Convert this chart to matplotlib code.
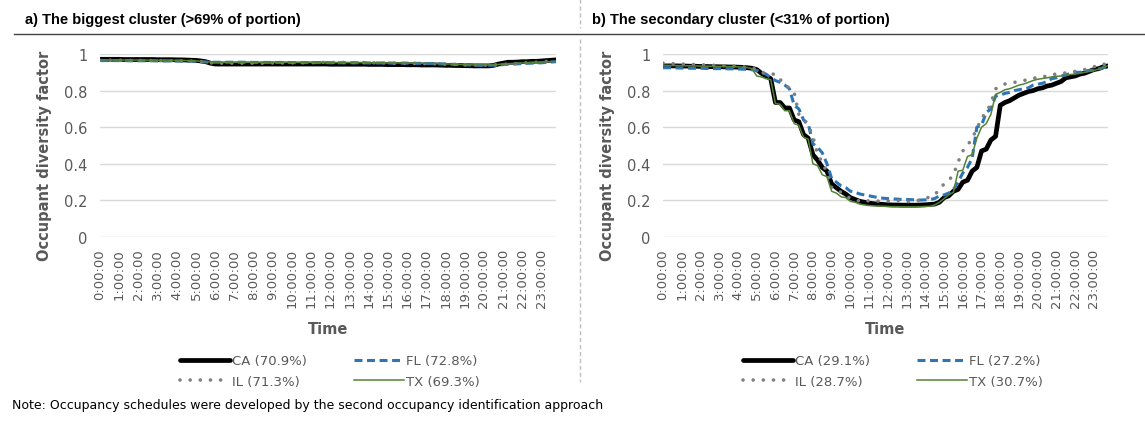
import numpy as np
import matplotlib.pyplot as plt
from matplotlib.lines import Line2D

# ── Data (15-minute steps, 96 points per day) ─────────────────────────────────
time_labels = [f"{h}:00:00" for h in range(24)]

# a) biggest cluster
ca_big = [0.971, 0.971, 0.971, 0.971, 0.971, 0.970, 0.970, 0.970,
          0.970, 0.970, 0.970, 0.970, 0.969, 0.969, 0.969, 0.969,
          0.968, 0.968, 0.967, 0.966, 0.965, 0.962, 0.958, 0.950,
          0.945, 0.945, 0.945, 0.945, 0.945, 0.945, 0.945, 0.945,
          0.945, 0.945, 0.945, 0.945, 0.945, 0.945, 0.945, 0.945,
          0.945, 0.945, 0.945, 0.945, 0.945, 0.945, 0.945, 0.945,
          0.944, 0.944, 0.944, 0.944, 0.944, 0.944, 0.944, 0.944,
          0.943, 0.943, 0.943, 0.943, 0.942, 0.942, 0.942, 0.942,
          0.941, 0.941, 0.941, 0.940, 0.940, 0.940, 0.940, 0.939,
          0.938, 0.938, 0.937, 0.937, 0.936, 0.936, 0.935, 0.935,
          0.935, 0.935, 0.938, 0.945, 0.950, 0.955, 0.955, 0.956,
          0.958, 0.958, 0.960, 0.960, 0.962, 0.964, 0.966, 0.968]
fl_big = [0.964, 0.964, 0.964, 0.964, 0.964, 0.964, 0.963, 0.963,
          0.963, 0.963, 0.963, 0.963, 0.962, 0.962, 0.962, 0.962,
          0.962, 0.961, 0.961, 0.960, 0.960, 0.958, 0.956, 0.955,
          0.955, 0.955, 0.955, 0.955, 0.955, 0.955, 0.955, 0.955,
          0.954, 0.954, 0.954, 0.954, 0.954, 0.954, 0.954, 0.954,
          0.953, 0.953, 0.953, 0.953, 0.953, 0.953, 0.953, 0.953,
          0.952, 0.952, 0.952, 0.952, 0.952, 0.952, 0.952, 0.952,
          0.951, 0.951, 0.951, 0.951, 0.951, 0.950, 0.950, 0.950,
          0.950, 0.950, 0.949, 0.949, 0.948, 0.948, 0.947, 0.946,
          0.945, 0.944, 0.943, 0.942, 0.941, 0.940, 0.939, 0.938,
          0.938, 0.938, 0.939, 0.940, 0.942, 0.944, 0.945, 0.946,
          0.948, 0.949, 0.950, 0.951, 0.952, 0.954, 0.956, 0.958]
il_big = [0.966, 0.966, 0.966, 0.966, 0.966, 0.965, 0.965, 0.965,
          0.965, 0.965, 0.965, 0.964, 0.964, 0.964, 0.964, 0.963,
          0.963, 0.962, 0.962, 0.961, 0.960, 0.958, 0.955, 0.952,
          0.950, 0.950, 0.950, 0.950, 0.950, 0.950, 0.950, 0.950,
          0.950, 0.950, 0.950, 0.950, 0.951, 0.951, 0.951, 0.951,
          0.952, 0.952, 0.952, 0.953, 0.953, 0.953, 0.954, 0.954,
          0.954, 0.954, 0.954, 0.954, 0.954, 0.953, 0.953, 0.953,
          0.952, 0.952, 0.952, 0.951, 0.951, 0.950, 0.950, 0.950,
          0.949, 0.949, 0.948, 0.948, 0.947, 0.947, 0.946, 0.946,
          0.945, 0.944, 0.943, 0.942, 0.941, 0.940, 0.940, 0.939,
          0.939, 0.939, 0.940, 0.941, 0.943, 0.945, 0.947, 0.948,
          0.950, 0.952, 0.954, 0.955, 0.957, 0.959, 0.961, 0.963]
tx_big = [0.968, 0.968, 0.968, 0.968, 0.967, 0.967, 0.967, 0.967,
          0.967, 0.967, 0.966, 0.966, 0.966, 0.966, 0.966, 0.965,
          0.965, 0.965, 0.964, 0.963, 0.962, 0.960, 0.958, 0.956,
          0.955, 0.955, 0.955, 0.955, 0.955, 0.955, 0.955, 0.955,
          0.955, 0.955, 0.955, 0.955, 0.955, 0.955, 0.955, 0.955,
          0.954, 0.954, 0.954, 0.954, 0.954, 0.954, 0.954, 0.954,
          0.953, 0.953, 0.953, 0.953, 0.953, 0.953, 0.953, 0.953,
          0.952, 0.952, 0.952, 0.952, 0.951, 0.951, 0.951, 0.951,
          0.950, 0.950, 0.950, 0.949, 0.949, 0.948, 0.948, 0.947,
          0.946, 0.945, 0.944, 0.943, 0.942, 0.941, 0.940, 0.940,
          0.940, 0.940, 0.941, 0.943, 0.945, 0.947, 0.948, 0.950,
          0.951, 0.952, 0.954, 0.955, 0.956, 0.958, 0.959, 0.960]

# b) secondary cluster
ca_sec = [0.935, 0.935, 0.935, 0.935, 0.934, 0.934, 0.933, 0.933,
          0.932, 0.932, 0.931, 0.931, 0.930, 0.930, 0.929, 0.929,
          0.928, 0.927, 0.925, 0.922, 0.915, 0.895, 0.880, 0.865,
          0.735, 0.735, 0.705, 0.705, 0.640, 0.630, 0.560, 0.540,
          0.450, 0.420, 0.380, 0.360, 0.290, 0.270, 0.250, 0.235,
          0.215, 0.205, 0.195, 0.190, 0.185, 0.182, 0.180, 0.178,
          0.176, 0.175, 0.175, 0.174, 0.174, 0.174, 0.174, 0.175,
          0.176, 0.178, 0.180, 0.190, 0.215, 0.225, 0.250, 0.260,
          0.300, 0.310, 0.360, 0.380, 0.470, 0.480, 0.530, 0.550,
          0.720, 0.735, 0.745, 0.760, 0.775, 0.785, 0.795, 0.800,
          0.810, 0.815, 0.825, 0.830, 0.840, 0.850, 0.870, 0.875,
          0.880, 0.890, 0.895, 0.905, 0.915, 0.920, 0.930, 0.935]
fl_sec = [0.925, 0.925, 0.924, 0.924, 0.923, 0.923, 0.922, 0.922,
          0.922, 0.921, 0.921, 0.920, 0.920, 0.920, 0.919, 0.919,
          0.918, 0.917, 0.916, 0.914, 0.910, 0.900, 0.890, 0.870,
          0.855, 0.845, 0.830, 0.810, 0.720, 0.700, 0.640, 0.620,
          0.510, 0.490, 0.460, 0.400, 0.320, 0.300, 0.280, 0.270,
          0.250, 0.245, 0.235, 0.230, 0.225, 0.220, 0.215, 0.212,
          0.210, 0.208, 0.207, 0.205, 0.205, 0.204, 0.203, 0.202,
          0.203, 0.205, 0.210, 0.225, 0.230, 0.240, 0.260, 0.300,
          0.350, 0.380, 0.430, 0.600, 0.610, 0.680, 0.700, 0.770,
          0.775, 0.785, 0.790, 0.800, 0.805, 0.810, 0.815, 0.830,
          0.835, 0.840, 0.850, 0.865, 0.870, 0.880, 0.885, 0.895,
          0.900, 0.900, 0.905, 0.910, 0.912, 0.918, 0.925, 0.932]
il_sec = [0.950, 0.948, 0.947, 0.946, 0.945, 0.944, 0.943, 0.942,
          0.941, 0.940, 0.939, 0.938, 0.937, 0.936, 0.935, 0.934,
          0.932, 0.930, 0.928, 0.925, 0.915, 0.900, 0.895, 0.890,
          0.890, 0.860, 0.840, 0.810, 0.790, 0.670, 0.640, 0.610,
          0.550, 0.450, 0.410, 0.350, 0.270, 0.255, 0.245, 0.230,
          0.210, 0.205, 0.195, 0.190, 0.200, 0.198, 0.196, 0.195,
          0.196, 0.198, 0.200, 0.198, 0.195, 0.190, 0.195, 0.205,
          0.210, 0.220, 0.230, 0.260, 0.290, 0.310, 0.340, 0.410,
          0.470, 0.500, 0.540, 0.590, 0.650, 0.680, 0.730, 0.810,
          0.820, 0.836, 0.840, 0.845, 0.850, 0.855, 0.860, 0.868,
          0.870, 0.875, 0.880, 0.888, 0.890, 0.893, 0.897, 0.900,
          0.905, 0.910, 0.915, 0.920, 0.930, 0.940, 0.945, 0.940]
tx_sec = [0.938, 0.938, 0.937, 0.937, 0.936, 0.936, 0.935, 0.935,
          0.934, 0.934, 0.933, 0.933, 0.932, 0.932, 0.931, 0.931,
          0.930, 0.928, 0.926, 0.920, 0.880, 0.875, 0.865, 0.860,
          0.730, 0.725, 0.690, 0.690, 0.620, 0.610, 0.545, 0.535,
          0.400, 0.390, 0.340, 0.330, 0.250, 0.240, 0.220, 0.215,
          0.195, 0.190, 0.180, 0.175, 0.172, 0.170, 0.169, 0.168,
          0.167, 0.166, 0.166, 0.165, 0.165, 0.165, 0.165, 0.166,
          0.167, 0.168, 0.175, 0.190, 0.210, 0.230, 0.245, 0.360,
          0.365, 0.440, 0.450, 0.540, 0.600, 0.620, 0.670, 0.780,
          0.790, 0.805, 0.810, 0.820, 0.830, 0.836, 0.845, 0.855,
          0.862, 0.866, 0.870, 0.875, 0.878, 0.880, 0.884, 0.888,
          0.890, 0.895, 0.900, 0.905, 0.910, 0.918, 0.928, 0.936]

labels_big = ["CA (70.9%)", "FL (72.8%)", "IL (71.3%)", "TX (69.3%)"]
labels_sec = ["CA (29.1%)", "FL (27.2%)", "IL (28.7%)", "TX (30.7%)"]

# ── Styles ────────────────────────────────────────────────────────────────────
GRAY_TXT = "#595959"
GRID = "#D9D9D9"
styles = [
    dict(color="black", lw=3.4, solid_capstyle="round"),
    dict(color="#2E75B6", lw=2.2, linestyle=(0, (2.6, 1.5))),
    dict(color="#7F7F7F", lw=2.6, linestyle=(0, (0.01, 2.8)), dash_capstyle="round"),
    dict(color="#548235", lw=1.1),
]

W, H = 1145, 427
fig = plt.figure(figsize=(W / 100, H / 100), dpi=100)


def px_rect(x0, x1, y_top, y_bot):
    return [x0 / W, 1 - y_bot / H, (x1 - x0) / W, (y_bot - y_top) / H]


def draw_panel(ax, series, labels, legend_cx):
    x = np.arange(len(series[0]))
    handles = []
    for ys, st in zip(series, styles):
        (ln,) = ax.plot(x, ys, **st)
        handles.append(ln)
    ax.set_xlim(0, len(x) - 1)
    ax.set_ylim(0, 1)
    ax.set_yticks([0, 0.2, 0.4, 0.6, 0.8, 1])
    ax.set_yticklabels(["0", "0.2", "0.4", "0.6", "0.8", "1"])
    ax.set_xticks(x[::4])
    ax.set_xticklabels(time_labels, rotation=90, fontsize=9.5, color=GRAY_TXT,
                       family="DejaVu Sans")
    ax.tick_params(axis="y", labelsize=10.5, labelcolor=GRAY_TXT, length=0, pad=9)
    ax.tick_params(axis="x", length=0, pad=8)
    for s in ax.spines.values():
        s.set_visible(False)
    ax.grid(True, axis="y", color=GRID, lw=1)
    ax.set_axisbelow(True)
    ax.set_ylabel("Occupant diversity factor", fontsize=10.5, fontweight="bold",
                  color=GRAY_TXT)
    ax.yaxis.set_label_coords(-48 / (ax.get_position().width * W), 0.45)
    ax.set_xlabel("Time", fontsize=10.5, fontweight="bold", color=GRAY_TXT, labelpad=10)
    # legend filled row by row: CA, FL / IL, TX
    order = [0, 2, 1, 3]
    fig.legend([handles[i] for i in order], [labels[i] for i in order],
               loc="center", ncol=2, bbox_to_anchor=(legend_cx / W, 1 - 372 / H),
               frameon=False, fontsize=9.5, handlelength=3.8, handletextpad=0.15,
               columnspacing=3.6, labelspacing=0.55, labelcolor=GRAY_TXT)


ax_a = fig.add_axes(px_rect(100, 556, 55, 238))
ax_b = fig.add_axes(px_rect(663, 1108, 55, 238))
draw_panel(ax_a, [ca_big, fl_big, il_big, tx_big], labels_big, 330)
draw_panel(ax_b, [ca_sec, fl_sec, il_sec, tx_sec], labels_sec, 893)

# ── Titles, separators, note ──────────────────────────────────────────────────
title_font = dict(fontsize=10.5, fontweight="bold", color="black",
                  family="Liberation Sans")
fig.text(25 / W, 1 - 20 / H, "a) The biggest cluster (>69% of portion)",
         ha="left", va="center", **title_font)
fig.text(592 / W, 1 - 20 / H, "b) The secondary cluster (<31% of portion)",
         ha="left", va="center", **title_font)

fig.add_artist(Line2D([14 / W, 1], [1 - 35 / H, 1 - 35 / H], color="#404040", lw=1))
fig.add_artist(Line2D([580 / W, 580 / W], [1, 1 - 29 / H], color="#BFBFBF",
                      lw=1, linestyle=(0, (3, 2))))
fig.add_artist(Line2D([580 / W, 580 / W], [1 - 40 / H, 1 - 383 / H], color="#BFBFBF",
                      lw=1, linestyle=(0, (3, 2))))

fig.text(12 / W, 1 - 406 / H,
         "Note: Occupancy schedules were developed by the second occupancy identification approach",
         ha="left", va="center", fontsize=9, color="black", family="DejaVu Sans")

fig.savefig("out.png", dpi=100)
